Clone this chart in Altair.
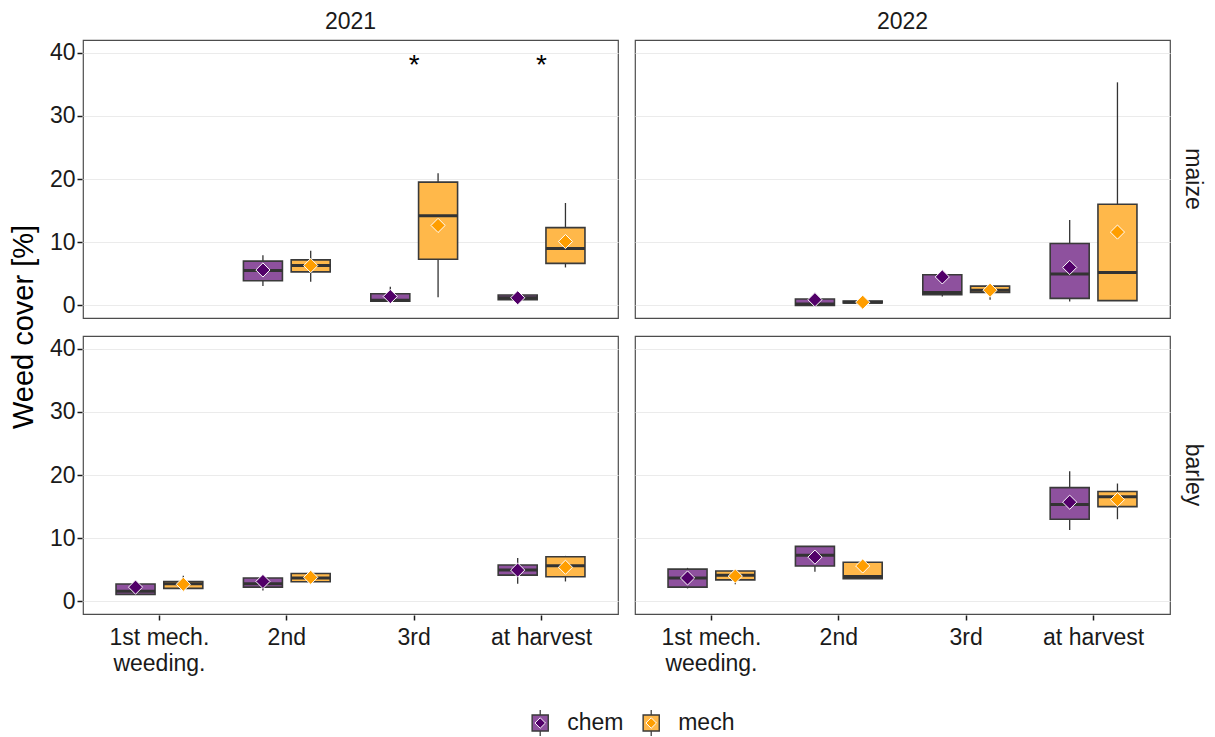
import altair as alt
import pandas as pd

# ---- data ----
years = ["2021"] * 6 + ["2022"] * 6 + ["2021"] * 6 + ["2022"] * 6
crops = ["maize"] * 12 + ["barley"] * 12
stages = (["2nd", "2nd", "3rd", "3rd", "at harvest", "at harvest"] * 2
          + ["1st mech. weeding.", "1st mech. weeding.", "2nd", "2nd", "at harvest", "at harvest"] * 2)
treatments = ["chem", "mech"] * 12

whisker_lo = [3.05, 3.75, 0.6, 1.3, 0.85, 6.0,
              0.0, 0.37, 1.4, 0.9, 0.6, 0.75,
              1.1, 2.05, 1.7, 3.1, 2.8, 3.15,
              2.05, 2.7, 4.7, 3.6, 11.3, 13.0]
q1 = [3.9, 5.3, 0.65, 7.3, 0.9, 6.65,
      0.0, 0.37, 1.7, 2.05, 1.1, 0.75,
      1.1, 2.05, 2.25, 3.1, 4.15, 3.9,
      2.25, 3.4, 5.6, 3.6, 13.0, 15.0]
median = [5.5, 6.3, 0.8, 14.2, 1.2, 9.0,
          0.2, 0.5, 2.05, 2.4, 4.95, 5.2,
          1.6, 2.8, 2.8, 3.7, 4.95, 5.65,
          3.7, 4.15, 7.3, 3.95, 15.35, 16.55]
q3 = [7.0, 7.2, 1.85, 19.5, 1.65, 12.3,
      1.0, 0.68, 4.85, 3.05, 9.8, 16.0,
      2.75, 3.15, 3.7, 4.4, 5.75, 7.05,
      5.1, 4.8, 8.7, 6.2, 18.0, 17.4]
whisker_hi = [7.95, 8.65, 2.95, 20.9, 1.7, 16.2,
              1.0, 0.68, 4.85, 3.05, 13.5, 35.3,
              2.75, 4.05, 3.7, 4.4, 6.85, 7.2,
              5.3, 4.8, 8.7, 6.2, 20.6, 18.65]
means = [5.6, 6.3, 1.4, 12.65, 1.2, 10.1,
         0.9, 0.5, 4.5, 2.4, 6.0, 11.6,
         2.25, 2.7, 3.15, 3.8, 4.95, 5.4,
         3.7, 4.0, 7.0, 5.6, 15.7, 16.1]
signif = ["", "", "", "*", "", "*"] + [""] * 18

stage_order = ["1st mech. weeding.", "2nd", "3rd", "at harvest"]
trt_order = ["chem", "mech"]
box_fill = ["#8e519e", "#ffb84a"]
mean_fill = ["#520069", "#ff9e00"]

df = pd.DataFrame({
    "year": years, "crop": crops, "stage": stages, "trt": treatments,
    "lo": whisker_lo, "q1": q1, "med": median, "q3": q3, "hi": whisker_hi,
    "mean": means, "sig": signif,
})

FONT = "Liberation Sans"
BOXW = 39
LBL = 23

x_enc = alt.X("stage:N", sort=stage_order,
              scale=alt.Scale(domain=stage_order, paddingInner=0, paddingOuter=0.1),
              axis=alt.Axis(title=None, labelAngle=0, labelPadding=6,
                            labelExpr="datum.value == '1st mech. weeding.' ? ['1st mech.', 'weeding.'] : datum.label"))
xoff = alt.XOffset("trt:N", sort=trt_order,
                   scale=alt.Scale(domain=trt_order, paddingInner=0, paddingOuter=1 / 3))
y_scale = alt.Scale(domain=[-2, 42], nice=False, zero=False)
y_axis = alt.Axis(title=None, values=[0, 10, 20, 30, 40], grid=True, labelPadding=2)

base = alt.Chart()

whisk = base.mark_rule(color="#333333", strokeWidth=1.3).encode(
    x=x_enc, xOffset=xoff,
    y=alt.Y("lo:Q", scale=y_scale, axis=y_axis), y2="hi:Q")

box = base.mark_bar(size=BOXW, stroke="#3a3a3a", strokeWidth=1.6).encode(
    x=x_enc, xOffset=xoff,
    y=alt.Y("q1:Q", scale=y_scale, axis=y_axis), y2="q3:Q",
    fill=alt.Fill("trt:N", scale=alt.Scale(domain=trt_order, range=box_fill), legend=None))

med = base.mark_tick(orient="horizontal", size=BOXW, thickness=3, color="#333333", opacity=1).encode(
    x=x_enc, xOffset=xoff,
    y=alt.Y("med:Q", scale=y_scale, axis=y_axis))

mean_pt = base.mark_point(shape="diamond", size=200, filled=True, opacity=1,
                          stroke="white", strokeWidth=1).encode(
    x=x_enc, xOffset=xoff,
    y=alt.Y("mean:Q", scale=y_scale, axis=y_axis),
    color=alt.Color("trt:N", scale=alt.Scale(domain=trt_order, range=mean_fill), legend=None))

stars = base.mark_text(fontSize=28, font=FONT, color="#000000", baseline="middle").transform_filter(
    "datum.sig != ''").encode(
    x=x_enc,
    y=alt.datum(37.9),
    text="sig:N")

facet = alt.layer(whisk, box, med, mean_pt, stars, data=df).properties(width=535, height=278).facet(
    column=alt.Column("year:N", title=None,
                      header=alt.Header(labelFontSize=LBL, labelFont=FONT, labelColor="#1a1a1a",
                                        labelPadding=5)),
    row=alt.Row("crop:N", title="Weed cover [%]", sort=["maize", "barley"],
                header=alt.Header(labelFontSize=LBL, labelFont=FONT, labelColor="#1a1a1a",
                                  labelAngle=90, labelOrient="right", labelPadding=10,
                                  titleOrient="left", titleFont=FONT, titleFontSize=29,
                                  titleFontWeight="normal", titleColor="#000000",
                                  titlePadding=0)),
    spacing={"row": 16, "column": 15},
)

# ---- manual legend (box + diamond keys) ----
leg_df = pd.DataFrame({"trt": trt_order})
leg_x = alt.X("trt:N", sort=trt_order, axis=None,
              scale=alt.Scale(domain=trt_order, paddingInner=0, paddingOuter=0))
leg_base = alt.Chart(leg_df)
KEY = -47.5
leg_whisk = leg_base.mark_rule(color="#333333", strokeWidth=1.2, xOffset=KEY).encode(
    x=leg_x, y=alt.value(4), y2=alt.value(30))
leg_box = leg_base.mark_square(size=260, opacity=1, stroke="#3a3a3a", strokeWidth=1.4, xOffset=KEY).encode(
    x=leg_x, y=alt.value(17),
    fill=alt.Fill("trt:N", scale=alt.Scale(domain=trt_order, range=box_fill), legend=None))
leg_mean = leg_base.mark_point(shape="diamond", size=110, filled=True, opacity=1, stroke="white",
                               strokeWidth=1, xOffset=KEY).encode(
    x=leg_x, y=alt.value(17),
    color=alt.Color("trt:N", scale=alt.Scale(domain=trt_order, range=mean_fill), legend=None))
leg_text = leg_base.mark_text(align="left", baseline="middle", fontSize=LBL, font=FONT,
                              color="#1a1a1a", xOffset=KEY + 27).encode(
    x=leg_x, y=alt.value(17), text="trt:N")
legend = alt.layer(leg_whisk, leg_box, leg_mean, leg_text).properties(
    width=222, height=34, view=alt.ViewBackground(stroke="transparent"))

chart = alt.vconcat(facet, legend, spacing=30, center=True).properties(
    padding={"left": 1, "top": 3, "right": 2, "bottom": 0}
).configure_view(
    stroke="#4d4d4d", strokeWidth=1.2
).configure_axis(
    labelFont=FONT, labelFontSize=LBL, labelColor="#1a1a1a",
    tickColor="#1a1a1a", tickSize=5, tickWidth=1.5, domain=False,
    gridColor="#ebebeb", gridWidth=1, labelPadding=3,
).configure_axisX(grid=False, labelLineHeight=26)

chart.save("out.html", embed_options={"renderer": "svg", "actions": False})
